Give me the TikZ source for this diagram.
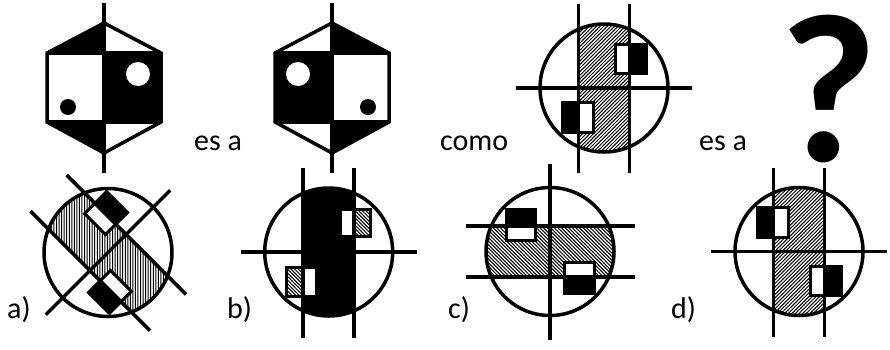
\documentclass[tikz,border=0pt]{standalone}
\usepackage{fontspec}
\setmainfont{Carlito}
\tikzset{
  ln/.style={line width=3.5pt},
  rl/.style={line width=3pt},
  hl/.style={line width=1pt},
  txt/.style={font=\fontsize{30}{30}\selectfont, inner sep=0pt},
}
\newcommand\hatchlines[1]{%
  \foreach \k in {-170,-166.4,...,170} \draw[hl] (\k-120,120*#1) -- (\k+120,-120*#1);}
\newcommand\hexfig[1]{%
\begin{scope}[#1]
  \fill[black] (-57,53) -- (0,23) -- (0,53) -- cycle;
  \fill[black] (0,53) rectangle (57,122);
  \fill[black] (-57,122) -- (0,153) -- (0,122) -- cycle;
  \draw[ln] (0,23) -- (57,53) -- (57,122) -- (0,153) -- (-57,122) -- (-57,53) -- cycle;
  \draw[ln] (-57,53) -- (57,53);
  \draw[ln] (-57,122) -- (57,122);
  \draw[ln] (0,3) -- (0,173);
  \fill[white] (34,74) circle (12);
  \fill[black] (-36,107) circle (8);
\end{scope}}
\newcommand\circfig[2]{%
\begin{scope}[#1]
  \begin{scope}
    \clip (0,0) circle (64);
    \clip (-25.5,-70) rectangle (25.5,70);
    \hatchlines{#2}
  \end{scope}
  \fill[white] (11,-44) rectangle (42,-14.5);
  \fill[black] (25.5,-44) rectangle (42,-14.5);
  \draw[rl] (11,-44) rectangle (42,-14.5);
  \fill[white] (-42,14.5) rectangle (-11,44);
  \fill[black] (-42,14.5) rectangle (-25.5,44);
  \draw[rl] (-42,14.5) rectangle (-11,44);
  \draw[ln] (0,0) circle (64);
  \draw[ln] (-25.5,-84) -- (-25.5,85);
  \draw[ln] (25.5,-84) -- (25.5,85);
  \draw[ln] (-88,0) -- (88,0);
\end{scope}}
\begin{document}
\begin{tikzpicture}[x=1pt,y=-1pt]
\useasboundingbox (0,0) rectangle (890,349);
% top row
\hexfig{shift={(104,0)}}
\hexfig{shift={(332,0)},xscale=-1}
\circfig{shift={(604,88)}}{1}
\node[txt, anchor=base west] (esa1) at (194,150) {es a};
\node[txt, anchor=base west] (como) at (440,150) {como};
\node[txt, anchor=base west] (esa2) at (699,150) {es a};
\node[font=\bfseries\fontsize{212}{212}\selectfont, inner sep=0pt, anchor=base] (q) at (829,161) {?};
% bottom row
\circfig{shift={(108,252.5)},rotate=45}{1}
\begin{scope}[shift={(328.7,252)}]
  \begin{scope}
    \clip (0,0) circle (64);
    \fill[black] (-25.5,-70) rectangle (25.5,70);
  \end{scope}
  \fill[white] (12,-43) rectangle (42,-16);
  \begin{scope}
    \clip (25.5,-43) rectangle (42,-16);
    \hatchlines{-1}
  \end{scope}
  \draw[rl] (12,-43) rectangle (42,-16);
  \fill[white] (-42,15) rectangle (-12,44);
  \begin{scope}
    \clip (-42,15) rectangle (-25.5,44);
    \hatchlines{-1}
  \end{scope}
  \draw[rl] (-42,15) rectangle (-12,44);
  \draw[ln] (0,0) circle (64);
  \draw[ln] (-25.5,-84) -- (-25.5,86);
  \draw[ln] (25.5,-84) -- (25.5,86);
  \draw[ln] (-88,0) -- (88,0);
\end{scope}
\circfig{shift={(550,251.5)},rotate=90}{1}
\circfig{shift={(799,251.5)},xscale=-1}{-1}
\node[txt, anchor=base west] (la) at (7,318) {a)};
\node[txt, anchor=base west] (lb) at (227,318) {b)};
\node[txt, anchor=base west] (lc) at (448,318) {c)};
\node[txt, anchor=base west] (ld) at (671,318) {d)};
\end{tikzpicture}
\end{document}
